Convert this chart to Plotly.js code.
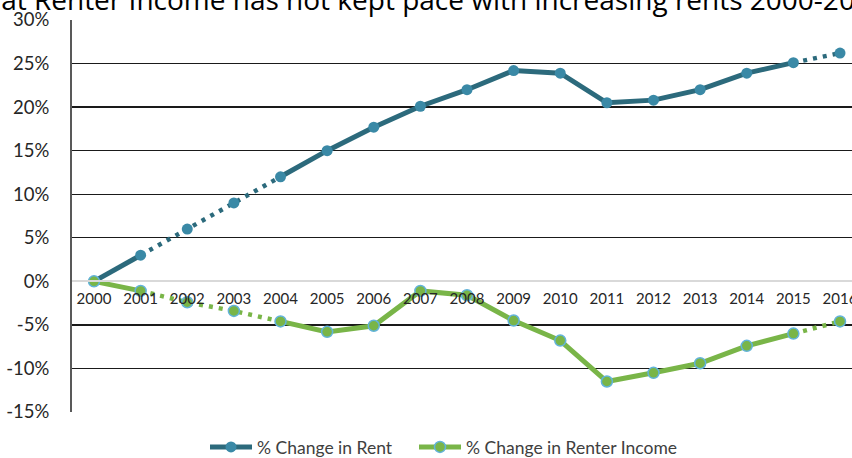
<!DOCTYPE html>
<html>
<head>
<meta charset="utf-8">
<script src="https://cdn.plot.ly/plotly-3.0.1.min.js"></script>
<style>html,body{margin:0;padding:0;background:#fff;}#chart{width:852px;height:458px;}</style>
</head>
<body>
<div id="chart"></div>
<script>
// ---- data ----
const years = ["2000","2001","2002","2003","2004","2005","2006","2007","2008","2009","2010","2011","2012","2013","2014","2015","2016"];
const rentChange = [0, 3.0, 6.0, 9.0, 12.0, 15.0, 17.7, 20.1, 22.0, 24.2, 23.9, 20.5, 20.8, 22.0, 23.9, 25.1, 26.2];
const incomeChange = [0, -1.1, -2.4, -3.4, -4.6, -5.8, -5.1, -1.1, -1.6, -4.5, -6.8, -11.5, -10.5, -9.4, -7.4, -6.0, -4.6];
const seriesNames = ["% Change in Rent", "% Change in Renter Income"];
const yTickVals = [-15, -10, -5, 0, 5, 10, 15, 20, 25, 30];
const yTickText = ["-15%", "-10%", "-5%", "0%", "5%", "10%", "15%", "20%", "25%", "30%"];
const titleText = "that Renter Income has not kept pace with increasing rents 2000-2016";

// ---- segment structure (solid vs dotted spans, by index) ----
const SOLID_SPANS = [[0, 1], [4, 15]];
const DOTTED_SPANS = [[1, 4], [15, 16]];
function masked(vals, spans) {
  return vals.map((v, i) => spans.some(s => i >= s[0] && i <= s[1]) ? v : null);
}

function seriesTraces(vals, name, lineColor, marker, legendId) {
  return [
    {
      x: years, y: masked(vals, DOTTED_SPANS), type: "scatter", mode: "lines",
      line: {color: lineColor, width: 4.5, dash: "4px,6px"},
      connectgaps: false, showlegend: false, hoverinfo: "skip", cliponaxis: false
    },
    {
      x: years, y: masked(vals, SOLID_SPANS), type: "scatter", mode: "lines",
      line: {color: lineColor, width: 5},
      connectgaps: false, showlegend: false, hoverinfo: "skip", cliponaxis: false
    },
    {
      x: years, y: vals, type: "scatter", mode: "markers", name: name,
      marker: marker, showlegend: false, cliponaxis: false
    },
    {
      // legend entry
      x: [years[0]], y: [null], type: "scatter", mode: "lines+markers", name: name,
      line: {color: lineColor, width: 5}, marker: marker, showlegend: true, legend: legendId
    }
  ];
}

const rentMarker = {color: "#3a89a6", size: 11, line: {width: 0}};
const incomeMarker = {color: "#79b548", size: 11, line: {width: 1.5, color: "#62b3da"}};

const data = [].concat(
  seriesTraces(rentChange, seriesNames[0], "#2c6a7c", rentMarker, "legend"),
  seriesTraces(incomeChange, seriesNames[1], "#79b548", incomeMarker, "legend2")
);

function legendAt(px) {
  return {
    orientation: "h", xref: "container", yref: "container",
    x: px / 852, xanchor: "left", y: 1 - 447 / 458, yanchor: "middle",
    font: {size: 17.5, color: "#404040"}, itemwidth: 42,
    bgcolor: "rgba(0,0,0,0)"
  };
}

const layout = {
  width: 852, height: 458,
  margin: {l: 72, r: 0, t: 20, b: 46, pad: 0, autoexpand: false},
  paper_bgcolor: "#ffffff", plot_bgcolor: "#ffffff",
  font: {family: "Lato, 'Open Sans', sans-serif", size: 16, color: "#262626"},
  showlegend: true,
  legend: legendAt(205),
  legend2: legendAt(414),
  xaxis: {
    type: "category", range: [-0.472, 16.257],
    anchor: "free", position: 1/3,
    showgrid: false, showline: true, linecolor: "#d9d9d9", linewidth: 2,
    ticks: "", ticklabelstandoff: 4, tickfont: {size: 15, color: "#262626"}, fixedrange: true
  },
  yaxis: {
    range: [-15, 30], tickvals: yTickVals, ticktext: yTickText,
    showgrid: true, gridcolor: "#1a1a1a", gridwidth: 1.4,
    zeroline: true, zerolinecolor: "#d9d9d9", zerolinewidth: 2,
    showline: true, linecolor: "#595959", linewidth: 2,
    ticks: "", ticklabelstandoff: 17, tickfont: {size: 18.5, color: "#262626"}, fixedrange: true
  },
  annotations: [{
    text: titleText, xref: "paper", yref: "paper",
    x: -100 / 780, xanchor: "left", y: (412 - 20) / 392, yanchor: "bottom",
    showarrow: false, font: {family: "'Open Sans', sans-serif", size: 28, color: "#000000"}
  }]
};

Plotly.newPlot("chart", data, layout, {displayModeBar: false, staticPlot: true});
</script>
</body>
</html>
